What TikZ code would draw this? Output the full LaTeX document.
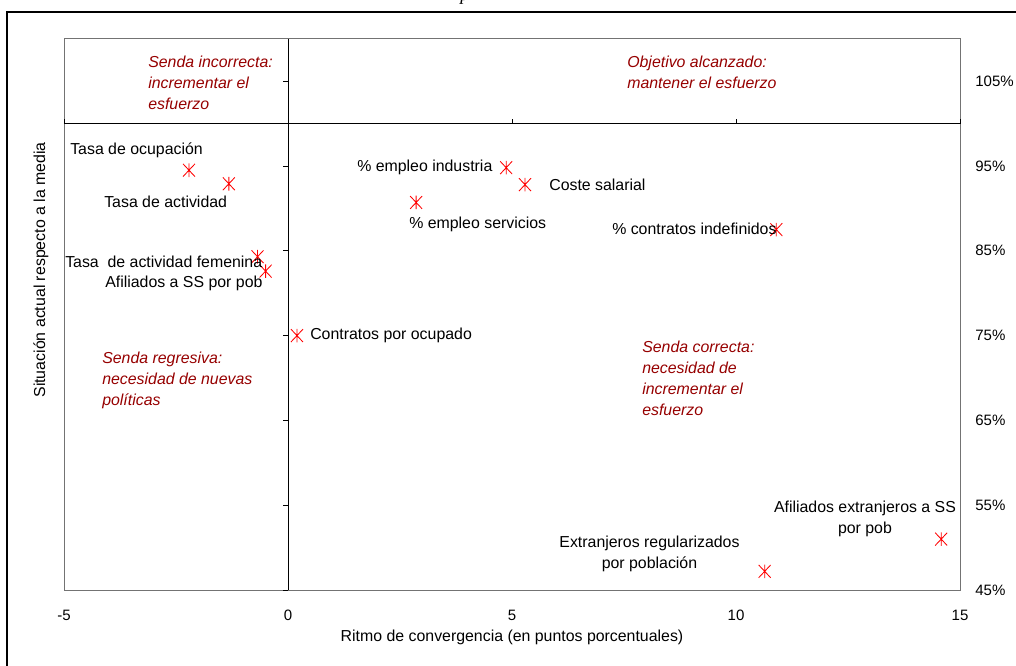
\documentclass[tikz,border=0pt]{standalone}
\usepackage{fontspec}
\setmainfont{Liberation Sans}
\newfontfamily\serifcap{Liberation Serif}
\usetikzlibrary{positioning}
\definecolor{rojo}{RGB}{255,0,0}
\definecolor{granate}{RGB}{150,0,0}
\tikzset{
	etiq/.style={inner sep=0pt, font=\fontsize{11.3}{14.9}\selectfont},
	senda/.style={etiq, text=granate, font=\fontsize{11.3}{14.9}\selectfont\itshape, align=left, anchor=west},
	eje/.style={inner sep=0pt, font=\fontsize{10.7}{13}\selectfont},
	marca/.style={draw=rojo, line width=0.6pt},
}
\begin{document}
\begin{tikzpicture}[x=1.12cm, y=0.212cm]
		\useasboundingbox (-6.4286,36.04) rectangle (16.25,114.575);
		\node[inner sep=0pt, anchor=base, font=\serifcap\itshape\fontsize{13}{15}\selectfont] (tit) at (3.95,114.5) {p};
		\draw[line width=0.9pt] (-6.272,36.04) -- (-6.272,113.16) -- (16.25,113.16);
		\draw[black!55, line width=0.7pt] (-5,45) coordinate (so) rectangle (15,110) coordinate (ne);
		\draw[line width=0.7pt] (0,45) -- (0,110) (-5,100) -- (15,100);
		\foreach \y in {45,55,...,105} {
			\draw[line width=0.6pt] (0,\y) -- ++(-0.125cm,0);
			\node[eje, anchor=west] (y-\y) at (15.335,\y) {\y\%};
		}
		\foreach \x in {-5,0,...,15} {
			\draw[line width=0.6pt] (\x,100) -- ++(0,0.125cm);
			\node[eje] (x-\x) at (\x,42.05) {\x};
		}
		\node[etiq] (tx) at (5,39.46) {Ritmo de convergencia (en puntos porcentuales)};
		\node[etiq, rotate=90] (ty) at (-5.513,82.74) {Situación actual respecto a la media};
		\foreach \n/\x/\y in {1/-2.21/94.5, 2/-1.32/92.9, 3/-0.68/84.3, 4/-0.5/82.6, 5/0.2/75.0, 6/4.87/94.8, 7/5.29/92.8, 8/2.86/90.7, 9/10.9/87.5, 10/14.58/51.0, 11/10.64/47.2}
			\coordinate (p-\n) at (\x,\y);
		\foreach \n in {1,...,11}
			\draw[marca] (p-\n) +(-0.15cm,-0.16cm) -- +(0.15cm,0.16cm) +(-0.15cm,0.16cm) -- +(0.15cm,-0.16cm) +(0,-0.17cm) -- +(0,0.17cm);
		\node[etiq, anchor=west] (e-1) at (-4.866,96.89) {Tasa de ocupación};
		\node[etiq, anchor=west] (e-2) at (-4.107,90.75) {Tasa de actividad};
		\node[etiq, anchor=west] (e-3) at (-4.978,83.68) {Tasa\ \ de actividad femenina};
		\node[etiq, anchor=west] (e-4) at (-4.085,81.20) {Afiliados a SS por pob};
		\node[etiq, anchor=west] (e-5) at (0.491,75.07) {Contratos por ocupado};
		\node[etiq, anchor=west] (e-6) at (1.540,94.88) {\% empleo industria};
		\node[etiq, anchor=west] (e-7) at (5.826,92.76) {Coste salarial};
		\node[etiq, anchor=west] (e-8) at (2.701,88.16) {\% empleo servicios};
		\node[etiq, anchor=west] (e-9) at (7.232,87.57) {\% contratos indefinidos};
		\node[etiq, align=center] (e-10) at (12.879,53.43) {Afiliados extranjeros a SS\\por pob};
		\node[etiq, align=center] (e-11) at (8.069,49.25) {Extranjeros regularizados\\por población};
		\node[senda] (s-1) at (-3.125,104.79) {Senda incorrecta:\\incrementar el\\esfuerzo};
		\node[senda] (s-2) at (7.567,106.08) {Objetivo alcanzado:\\mantener el esfuerzo};
		\node[senda] (s-3) at (-4.152,69.76) {Senda regresiva:\\necesidad de nuevas\\políticas};
		\node[senda] (s-4) at (7.902,69.94) {Senda correcta:\\necesidad de\\incrementar el\\esfuerzo};
	\end{tikzpicture}
\end{document}
